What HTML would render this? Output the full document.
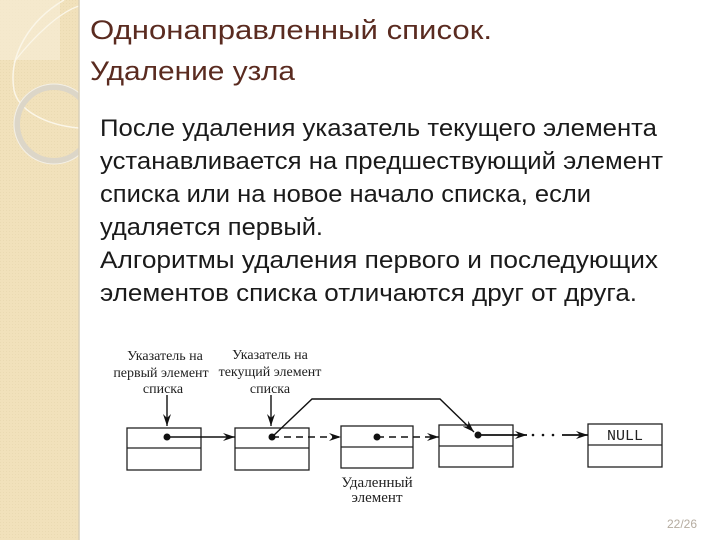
<!DOCTYPE html>
<html><head><meta charset="utf-8"><style>
html,body{margin:0;padding:0;background:#fff;}
svg{display:block;}
</style></head><body>
<svg width="720" height="540" viewBox="0 0 720 540" xmlns="http://www.w3.org/2000/svg">
<defs>
<pattern id="dots" width="3" height="3" patternUnits="userSpaceOnUse">
<rect width="3" height="3" fill="#f1e1bb"/>
<rect width="1" height="1" fill="#eadab2"/>
</pattern>
<marker id="ah" viewBox="0 0 12 8" refX="12" refY="4" markerWidth="12" markerHeight="8" markerUnits="userSpaceOnUse" orient="auto">
<path d="M0,0 L12,4 L0,8 L4,4 Z" fill="#111"/>
</marker>
</defs>
<!-- sidebar -->
<rect x="0" y="0" width="79" height="540" fill="url(#dots)"/>
<rect x="0" y="0" width="60" height="60" fill="#f6ecd4" opacity="0.7"/>
<path d="M64,0 C30,20 8,55 14,90 C18,110 45,125 79,128" fill="none" stroke="#fbf6e8" stroke-width="1.5"/>
<path d="M14,62 C35,35 60,12 79,6" fill="none" stroke="#fbf6e8" stroke-width="1.2"/>
<circle cx="54" cy="124" r="37" fill="none" stroke="#dcd6c8" stroke-width="6"/>
<circle cx="54" cy="124" r="40" fill="none" stroke="#f4f0e6" stroke-width="1"/>
<rect x="79" y="0" width="641" height="540" fill="#fff"/>
<line x1="79" y1="0" x2="79" y2="540" stroke="#d9cfb8" stroke-width="1.5"/>
<!-- title -->
<g font-family="Liberation Sans, sans-serif" fill="#5a2b20" font-size="27">
<text x="90" y="39" textLength="402" lengthAdjust="spacingAndGlyphs">Однонаправленный список.</text>
<text x="90" y="80" textLength="205" lengthAdjust="spacingAndGlyphs">Удаление узла</text>
</g>
<!-- body -->
<g font-family="Liberation Sans, sans-serif" fill="#1a1a1a" font-size="24">
<text x="100" y="136" textLength="557" lengthAdjust="spacingAndGlyphs">После удаления указатель текущего элемента</text>
<text x="100" y="169" textLength="563" lengthAdjust="spacingAndGlyphs">устанавливается на предшествующий элемент</text>
<text x="100" y="202" textLength="491" lengthAdjust="spacingAndGlyphs">списка или на новое начало списка, если</text>
<text x="100" y="235" textLength="223" lengthAdjust="spacingAndGlyphs">удаляется первый.</text>
<text x="100" y="268" textLength="558" lengthAdjust="spacingAndGlyphs">Алгоритмы удаления первого и последующих</text>
<text x="100" y="301" textLength="537" lengthAdjust="spacingAndGlyphs">элементов списка отличаются друг от друга.</text>
</g>
<!-- diagram labels -->
<g font-family="Liberation Serif, serif" fill="#222" font-size="14" text-anchor="middle">
<text x="165" y="360">Указатель на</text>
<text x="161" y="377">первый элемент</text>
<text x="163" y="393">списка</text>
<text x="270" y="359">Указатель на</text>
<text x="270" y="376">текущий элемент</text>
<text x="270" y="393">списка</text>
<text x="377" y="487" font-size="15">Удаленный</text>
<text x="377" y="502" font-size="15">элемент</text>
</g>
<!-- boxes -->
<g fill="#fff" stroke="#222" stroke-width="1.3">
<rect x="127" y="428" width="74" height="42"/><line x1="127" y1="448" x2="201" y2="448"/>
<rect x="235" y="428" width="74" height="42"/><line x1="235" y1="448" x2="309" y2="448"/>
<rect x="341" y="426" width="72" height="42"/><line x1="341" y1="447" x2="413" y2="447"/>
<rect x="439" y="425" width="74" height="42"/><line x1="439" y1="446" x2="513" y2="446"/>
<rect x="588" y="424" width="74" height="43"/><line x1="588" y1="445" x2="662" y2="445"/>
</g>
<text x="625" y="440" font-family="Liberation Mono, monospace" font-size="15" fill="#222" text-anchor="middle">NULL</text>
<!-- arrows -->
<g stroke="#111" stroke-width="1.4" fill="none">
<line x1="167" y1="395" x2="167" y2="426" marker-end="url(#ah)"/>
<line x1="271" y1="395" x2="271" y2="426" marker-end="url(#ah)"/>
<line x1="167" y1="437" x2="235" y2="437" marker-end="url(#ah)"/>
<line x1="272" y1="437" x2="341" y2="437" stroke-dasharray="7,5" marker-end="url(#ah)"/>
<line x1="377" y1="437" x2="439" y2="437" stroke-dasharray="7,5" marker-end="url(#ah)"/>
<line x1="478" y1="435" x2="527" y2="435" stroke-width="1.7" marker-end="url(#ah)"/>
<line x1="562" y1="435" x2="588" y2="435" stroke-width="1.7" marker-end="url(#ah)"/>
<polyline points="272,437 312,399 440,399 474,432" marker-end="url(#ah)"/>
</g>
<g fill="#111">
<circle cx="167" cy="437" r="3.5"/>
<circle cx="272" cy="437" r="3.5"/>
<circle cx="377" cy="437" r="3.5"/>
<circle cx="478" cy="435" r="3.5"/>
<circle cx="533" cy="435" r="1.3"/>
<circle cx="543" cy="435" r="1.3"/>
<circle cx="553" cy="435" r="1.3"/>
</g>
<text x="697" y="528" font-family="Liberation Sans, sans-serif" font-size="12" fill="#b5aca0" text-anchor="end">22/26</text>
</svg>
</body></html>
